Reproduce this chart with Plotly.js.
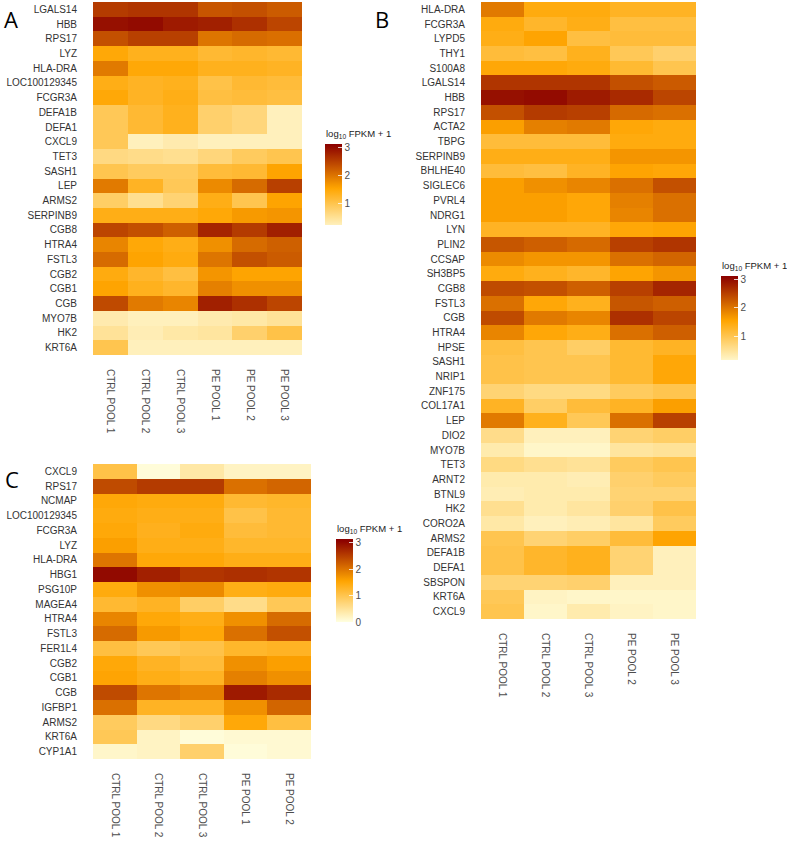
<!DOCTYPE html>
<html>
<head>
<meta charset="utf-8">
<script src="https://cdn.plot.ly/plotly-3.0.1.min.js"></script>
<style>html,body{margin:0;padding:0;background:#fff;}#chart{width:787px;height:847px;}</style>
</head>
<body>
<div id="chart"></div>
<script>
// ---------- Panel A ----------
const samplesA = ["CTRL POOL 1","CTRL POOL 2","CTRL POOL 3","PE POOL 1","PE POOL 2","PE POOL 3"];
const genesA = ["LGALS14","HBB","RPS17","LYZ","HLA-DRA","LOC100129345","FCGR3A","DEFA1B","DEFA1","CXCL9","TET3","SASH1","LEP","ARMS2","SERPINB9","CGB8","HTRA4","FSTL3","CGB2","CGB1","CGB","MYO7B","HK2","KRT6A"];
const valuesA = [
  [2.55,2.6,2.6,2.3,2.35,2.25],
  [2.95,3.0,2.85,2.8,2.65,2.45],
  [2.35,2.5,2.5,2.0,2.1,2.05],
  [1.5,1.35,1.35,1.2,1.25,1.2],
  [1.95,1.5,1.5,1.35,1.35,1.3],
  [1.4,1.3,1.35,1.05,1.2,1.15],
  [1.5,1.3,1.4,1.1,1.15,1.1],
  [0.95,1.2,1.35,0.8,0.7,0.25],
  [0.95,1.2,1.35,0.8,0.7,0.25],
  [0.95,0.05,0.35,0.2,0.2,0.25],
  [0.65,0.6,0.55,0.7,0.9,1.0],
  [1.0,0.9,0.9,1.15,1.2,1.55],
  [1.95,1.3,0.95,1.8,2.1,2.5],
  [0.85,0.55,0.75,1.4,1.0,1.55],
  [1.4,1.4,1.4,1.5,1.65,1.7],
  [2.45,2.35,2.2,2.75,2.55,2.8],
  [1.85,1.5,1.4,1.75,2.1,2.2],
  [2.1,1.55,1.45,2.0,2.35,2.25],
  [1.45,1.25,1.1,1.7,1.55,1.55],
  [1.55,1.35,1.25,1.9,1.75,1.75],
  [2.4,1.95,1.85,2.8,2.65,2.45],
  [0.35,0.15,0.15,0.35,0.4,0.5],
  [0.5,0.3,0.4,0.45,0.8,1.05],
  [1.0,0.15,0.05,0.05,0.05,0.1]
];

// ---------- Panel B ----------
const samplesB = ["CTRL POOL 1","CTRL POOL 2","CTRL POOL 3","PE POOL 2","PE POOL 3"];
const genesB = ["HLA-DRA","FCGR3A","LYPD5","THY1","S100A8","LGALS14","HBB","RPS17","ACTA2","TBPG","SERPINB9","BHLHE40","SIGLEC6","PVRL4","NDRG1","LYN","PLIN2","CCSAP","SH3BP5","CGB8","FSTL3","CGB","HTRA4","HPSE","SASH1","NRIP1","ZNF175","COL17A1","LEP","DIO2","MYO7B","TET3","ARNT2","BTNL9","HK2","CORO2A","ARMS2","DEFA1B","DEFA1","SBSPON","KRT6A","CXCL9"];
const valuesB = [
  [1.95,1.45,1.45,1.3,1.3],
  [1.45,1.25,1.4,1.1,1.1],
  [1.4,1.55,1.1,1.15,1.15],
  [1.15,1.1,1.35,0.95,0.8],
  [1.5,1.5,1.45,1.2,1.0],
  [2.6,2.6,2.6,2.35,2.25],
  [2.95,3.0,2.85,2.7,2.45],
  [2.35,2.55,2.5,2.1,2.05],
  [1.6,1.9,1.95,1.5,1.45],
  [1.15,1.15,1.15,1.45,1.45],
  [1.4,1.4,1.4,1.7,1.7],
  [1.15,1.1,1.3,1.55,1.5],
  [1.6,1.75,1.85,2.05,2.35],
  [1.6,1.6,1.5,1.9,2.05],
  [1.6,1.6,1.5,1.85,2.05],
  [1.3,1.3,1.3,1.5,1.55],
  [2.3,2.2,2.1,2.5,2.6],
  [1.8,1.7,1.7,2.05,2.15],
  [1.45,1.35,1.25,1.55,1.7],
  [2.4,2.35,2.2,2.5,2.75],
  [2.05,1.5,1.35,2.3,2.2],
  [2.4,1.95,1.85,2.65,2.45],
  [1.85,1.5,1.4,2.05,2.2],
  [1.1,1.0,0.85,1.2,1.3],
  [1.05,1.0,1.0,1.2,1.5],
  [1.05,1.0,1.0,1.2,1.5],
  [0.75,0.65,0.65,0.9,1.0],
  [1.3,0.85,1.15,1.3,1.6],
  [1.95,1.35,0.95,2.05,2.5],
  [0.6,0.25,0.25,0.75,0.85],
  [0.35,0.15,0.1,0.45,0.5],
  [0.65,0.55,0.5,0.9,1.0],
  [0.35,0.35,0.3,0.8,0.9],
  [0.3,0.35,0.35,0.75,0.75],
  [0.55,0.35,0.45,0.8,1.05],
  [0.4,0.25,0.3,0.45,0.9],
  [1.0,0.75,0.85,1.15,1.55],
  [1.05,1.25,1.35,0.75,0.25],
  [1.05,1.25,1.35,0.75,0.25],
  [0.75,0.75,0.8,0.25,0.25],
  [0.95,0.2,0.05,0.1,0.1],
  [1.0,0.05,0.35,0.2,0.15]
];

// ---------- Panel C ----------
const samplesC = ["CTRL POOL 1","CTRL POOL 2","CTRL POOL 3","PE POOL 1","PE POOL 2"];
const genesC = ["CXCL9","RPS17","NCMAP","LOC100129345","FCGR3A","LYZ","HLA-DRA","HBG1","PSG10P","MAGEA4","HTRA4","FSTL3","FER1L4","CGB2","CGB1","CGB","IGFBP1","ARMS2","KRT6A","CYP1A1"];
const valuesC = [
  [1.05,0.05,0.4,0.2,0.2],
  [2.4,2.55,2.55,2.05,2.15],
  [1.5,1.45,1.45,1.2,1.25],
  [1.45,1.4,1.4,1.05,1.2],
  [1.5,1.35,1.45,1.15,1.2],
  [1.6,1.4,1.4,1.25,1.25],
  [2.0,1.5,1.5,1.4,1.4],
  [3.0,2.8,2.6,2.65,2.6],
  [1.45,1.75,1.8,1.4,1.45],
  [1.2,1.3,0.85,0.6,0.95],
  [1.85,1.5,1.4,1.75,2.1],
  [2.1,1.65,1.5,2.05,2.35],
  [1.1,0.95,1.05,1.25,1.3],
  [1.5,1.3,1.15,1.75,1.6],
  [1.55,1.4,1.3,1.9,1.75],
  [2.4,2.0,1.9,2.85,2.7],
  [2.05,1.3,1.3,1.75,2.15],
  [0.9,0.65,0.8,1.5,1.1],
  [0.95,0.2,0.05,0.1,0.1],
  [0.15,0.2,0.8,0.05,0.1]
];

const colorbarTicksA = [1,2,3];
const colorbarTicksB = [1,2,3];
const colorbarTicksC = [0,1,2,3];
const legendTitle = "log<sub>10</sub> FPKM + 1";

// ---------- colour helpers ----------
const absStops = [[0,[255,255,224]],[1.55,[255,165,0]],[3.1,[139,0,0]]];
function colorAt(v){
  if(v<=absStops[0][0]) return absStops[0][1];
  for(let i=1;i<absStops.length;i++){
    if(v<=absStops[i][0]){
      const a=absStops[i-1], b=absStops[i];
      const t=(v-a[0])/(b[0]-a[0]);
      return a[1].map((c,k)=>Math.round(c+(b[1][k]-c)*t));
    }
  }
  return absStops[absStops.length-1][1];
}
function makeScale(zmin,zmax){
  const out=[]; const n=40;
  for(let i=0;i<=n;i++){
    const t=i/n; const c=colorAt(zmin+(zmax-zmin)*t);
    out.push([t,'rgb('+c.join(',')+')']);
  }
  return out;
}

const W=787,H=847;
const px=x=>x/W, py=y=>1-y/H;
const fontFam = 'Liberation Sans, Arial, sans-serif';

function hm(samples, genes, values, ax, zmin, zmax, cb){
  return {
    type:'heatmap', x:samples, y:genes, z:values,
    xaxis:'x'+ax, yaxis:'y'+ax,
    zmin:zmin, zmax:zmax, colorscale:makeScale(zmin,zmax),
    xgap:0, ygap:0, hoverinfo:'x+y+z',
    colorbar:cb
  };
}
function cbar(xpx,ytop,lenpx,ticks){
  return {
    x:px(xpx), xanchor:'left', xpad:0, y:py(ytop), yanchor:'top', ypad:0,
    len:lenpx, lenmode:'pixels', thickness:17, outlinewidth:0,
    tickvals:ticks, ticks:'inside', ticklen:4, tickcolor:'rgba(255,255,255,0.8)', tickwidth:1,
    tickfont:{family:fontFam,size:10,color:'#4d4d4d'}
  };
}

const data = [
  hm(samplesA, genesA, valuesA, '', 0.25, 3.12, cbar(325,144,81,colorbarTicksA)),
  hm(samplesB, genesB, valuesB, '2', 0.16, 3.12, cbar(721,276,84,colorbarTicksB)),
  hm(samplesC, genesC, valuesC, '3', 0, 3.15, cbar(336,539,83,colorbarTicksC))
];
data[0].xaxis='x'; data[0].yaxis='y';

function xax(d0,d1,anchor){
  return {domain:[px(d0),px(d1)], anchor:anchor, type:'category', tickangle:90,
    showgrid:false, zeroline:false, showline:false, ticks:'', ticklabelstandoff:13,
    tickfont:{family:fontFam,size:10,color:'#4d4d4d'}, fixedrange:true};
}
function yax(t,b,anchor){
  return {domain:[py(b),py(t)], anchor:anchor, type:'category', autorange:'reversed',
    showgrid:false, zeroline:false, showline:false, ticks:'', ticklabelstandoff:15,
    tickfont:{family:fontFam,size:10,color:'#333'}, fixedrange:true};
}

const layout = {
  width:W, height:H, margin:{l:0,r:0,t:0,b:0},
  paper_bgcolor:'#fff', plot_bgcolor:'#fff',
  xaxis: xax(93,302,'y'), yaxis: yax(2,355,'x'),
  xaxis2: xax(481,696,'y2'), yaxis2: yax(2,619,'x2'),
  xaxis3: xax(93,311,'y3'), yaxis3: yax(464,759,'x3'),
  annotations:[
    {text:'A', x:px(2), y:py(2), xref:'paper', yref:'paper', xanchor:'left', yanchor:'top', showarrow:false, font:{family:'Open Sans, sans-serif', size:22, color:'#000'}},
    {text:'B', x:px(373), y:py(2), xref:'paper', yref:'paper', xanchor:'left', yanchor:'top', showarrow:false, font:{family:'Open Sans, sans-serif', size:22, color:'#000'}},
    {text:'C', x:px(3), y:py(462), xref:'paper', yref:'paper', xanchor:'left', yanchor:'top', showarrow:false, font:{family:'Open Sans, sans-serif', size:22, color:'#000'}},
    {text:legendTitle, x:px(324), y:py(142), xref:'paper', yref:'paper', xanchor:'left', yanchor:'bottom', showarrow:false, font:{family:fontFam, size:9.5, color:'#222'}},
    {text:legendTitle, x:px(720), y:py(274), xref:'paper', yref:'paper', xanchor:'left', yanchor:'bottom', showarrow:false, font:{family:fontFam, size:9.5, color:'#222'}},
    {text:legendTitle, x:px(335), y:py(537), xref:'paper', yref:'paper', xanchor:'left', yanchor:'bottom', showarrow:false, font:{family:fontFam, size:9.5, color:'#222'}}
  ]
};

Plotly.newPlot('chart', data, layout, {displayModeBar:false, staticPlot:true});
</script>
</body>
</html>
